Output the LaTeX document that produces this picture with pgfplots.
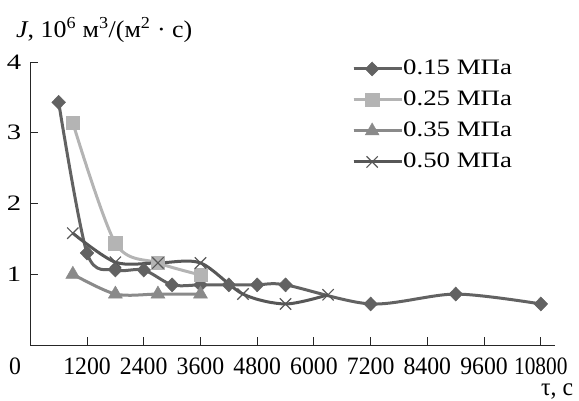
\documentclass[border=0pt]{standalone}
\usepackage{fontspec}
\setmainfont{Liberation Serif}
\usepackage{graphicx}
\usepackage{pgfplots}
\pgfplotsset{compat=1.18}
\definecolor{cA}{HTML}{626262}
\definecolor{cB}{HTML}{B4B4B4}
\definecolor{cC}{HTML}{8A8A8A}
\definecolor{cD}{HTML}{575757}
\newcommand{\tf}{\rmfamily\fontsize{24pt}{28pt}\selectfont}
\newcommand{\xlab}[1]{\scalebox{0.95}[1]{\rmfamily\fontsize{25pt}{30pt}\selectfont #1}}
\newcommand{\ylab}[1]{\scalebox{1.3}[1]{\rmfamily\fontsize{22pt}{26pt}\selectfont #1}}
\newcommand{\legt}[1]{\scalebox{1.22}[1]{\rmfamily\fontsize{22pt}{26pt}\selectfont #1}}
\begin{document}
\begin{tikzpicture}[font=\tf]
\path[use as bounding box] (-30.3pt,-55pt) rectangle (548.7pt,345pt);
\begin{axis}[
  scale only axis, width=524.7pt, height=283pt,
  font=\tf,
  xmin=0, xmax=11100, ymin=0, ymax=4,
  axis x line=bottom, axis y line=left,
  axis line style={-, line width=1pt, black!85},
  tick style={line width=1pt, black!85},
  major tick length=8pt, tick align=inside,
  xtick={1200,2400,3600,4800,6000,7200,8400,9600,10800},
  xticklabels={\xlab{1200},\xlab{2400},\xlab{3600},\xlab{4800},\xlab{6000},\xlab{7200},\xlab{8400},\xlab{9600},\scalebox{0.9}[1]{\xlab{10800}}},
  ytick={1,2,3,4},
  yticklabels={\ylab{1},\ylab{2},\ylab{3},\ylab{4}},
  x tick label style={inner sep=0pt, anchor=base, yshift=-29pt},
  y tick label style={inner sep=0pt, anchor=east, xshift=-9pt},
  legend style={at={(rel axis cs:0.613,0.811)}, anchor=west, draw=none, fill=none,
    inner sep=0pt, row sep=9pt,
    nodes={inner sep=0pt, text height=17pt, text depth=5pt}},
  legend cell align=left,
  legend image code/.code={\path (0pt,0pt) -- (48pt,0pt);\draw[mark repeat=2,mark phase=2] plot coordinates {(0pt,0pt) (18.5pt,0pt) (37pt,0pt)};},
  every axis plot/.append style={line width=3pt, smooth, tension=0.5},
]
\addplot[cA, mark=diamond*, mark size=7pt, mark options={xscale=1.3, line width=0.5pt}] coordinates {
(600,3.43) (1200,1.30) (1800,1.06) (2400,1.06) (3000,0.85) (3600,0.85) (4200,0.85) (4800,0.85) (5400,0.85) (7200,0.58) (9000,0.72) (10800,0.58)};
\addlegendentry{\legt{0.15 МПа}}
\addplot[cB, mark=square*, mark size=6.7pt, mark options={line width=0.5pt}] coordinates {
(900,3.14) (1800,1.44) (2700,1.16) (3600,0.99)};
\addlegendentry{\legt{0.25 МПа}}
\addplot[cC, mark=triangle*, mark size=8pt, mark options={line width=0.5pt}] coordinates {
(900,1.00) (1800,0.72) (2700,0.72) (3600,0.72)};
\addlegendentry{\legt{0.35 МПа}}
\addplot[cD, mark=x, mark size=8pt, mark options={line width=1.2pt}] coordinates {
(900,1.58) (1800,1.17) (2700,1.16) (3600,1.16) (4500,0.72) (5400,0.58) (6300,0.71)};
\addlegendentry{\legt{0.50 МПа}}
\end{axis}
\node[anchor=base west, inner sep=0pt] at (-14.3pt,307pt) {\scalebox{1.08}[1]{\rmfamily\fontsize{24pt}{28pt}\selectfont\textit{J}, 10\textsuperscript{6} м\textsuperscript{3}/(м\textsuperscript{2} · с)}};
\node[anchor=base, inner sep=0pt] at (-15.3pt,-29pt) {\xlab{0}};
\node[anchor=base east, inner sep=0pt] at (543pt,-50pt) {\xlab{τ, с}};
\end{tikzpicture}
\end{document}
